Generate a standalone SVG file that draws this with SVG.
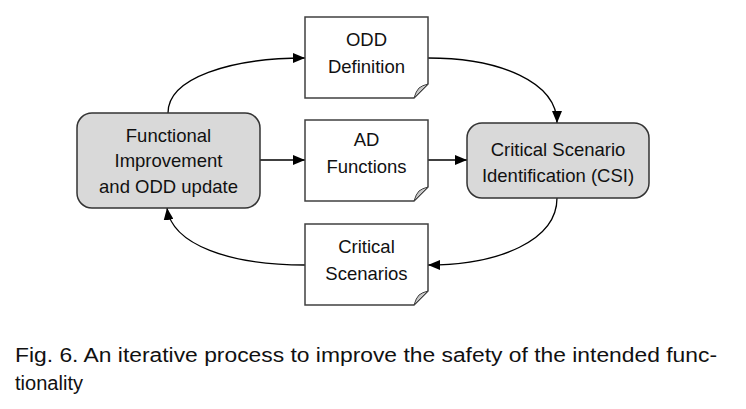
<svg xmlns="http://www.w3.org/2000/svg" width="746" height="409" viewBox="0 0 746 409">
  <defs>
    <marker id="arr" markerWidth="12" markerHeight="10" refX="12" refY="5" orient="auto" markerUnits="userSpaceOnUse">
      <path d="M0,0 L12,5 L0,10 Z" fill="#000"/>
    </marker>
    <style>
      .proc { fill: #d9d9d9; stroke: #333; stroke-width: 1.5; }
      .doc { fill: #fff; stroke: #404040; stroke-width: 1.5; }
      .fold { fill: #c8c8c8; stroke: #404040; stroke-width: 1; }
      .lbl { font-family: "Liberation Sans", Arial, sans-serif; font-size: 18.5px; fill: #111; text-anchor: middle; }
      .cap { font-family: "Liberation Sans", Arial, Helvetica, sans-serif; font-size: 19.5px; fill: #111; }
      .conn { fill: none; stroke: #000; stroke-width: 1.3; marker-end: url(#arr); }
    </style>
  </defs>
  <rect width="746" height="409" fill="#fff"/>

  <g id="connectors">
    <path class="conn" d="M168,113 C168,78 230,58 305,58"/>
    <path class="conn" d="M428,58 C500,58 557,82 557,123"/>
    <path class="conn" d="M260,160 L305,160"/>
    <path class="conn" d="M428,160 L467,160"/>
    <path class="conn" d="M557,198 C557,240 500,265 428,265"/>
    <path class="conn" d="M305,265 C230,265 172,245 167,208"/>
  </g>

  <g id="functional-improvement">
    <rect class="proc" x="77" y="113" width="183" height="95" rx="15" ry="15"/>
    <text class="lbl" x="168.5" y="142">Functional</text>
    <text class="lbl" x="168.5" y="167">Improvement</text>
    <text class="lbl" x="168.5" y="193">and ODD update</text>
  </g>

  <g id="odd-definition">
    <path class="doc" d="M305,17 H428 V84 L414,98 H305 Z"/>
    <path class="fold" d="M428,84 L414,98 Q416,91 419,88 Q422,85.5 428,84 Z"/>
    <text class="lbl" x="366.5" y="46">ODD</text>
    <text class="lbl" x="366.5" y="73">Definition</text>
  </g>

  <g id="ad-functions">
    <path class="doc" d="M305,120 H428 V187 L414,201 H305 Z"/>
    <path class="fold" d="M428,187 L414,201 Q416,194 419,191 Q422,188.5 428,187 Z"/>
    <text class="lbl" x="366.5" y="146">AD</text>
    <text class="lbl" x="366.5" y="173">Functions</text>
  </g>

  <g id="critical-scenarios">
    <path class="doc" d="M305,224 H428 V291 L414,305 H305 Z"/>
    <path class="fold" d="M428,291 L414,305 Q416,298 419,295 Q422,292.5 428,291 Z"/>
    <text class="lbl" x="366.5" y="253">Critical</text>
    <text class="lbl" x="366.5" y="280">Scenarios</text>
  </g>

  <g id="csi">
    <rect class="proc" x="467" y="123" width="182" height="75" rx="15" ry="15"/>
    <text class="lbl" x="558" y="156">Critical Scenario</text>
    <text class="lbl" x="558" y="182">Identification (CSI)</text>
  </g>

  <g id="caption">
    <text class="cap" x="15" y="362" textLength="702" lengthAdjust="spacingAndGlyphs">Fig. 6. An iterative process to improve the safety of the intended func-</text>
    <text class="cap" x="15" y="390" textLength="68" lengthAdjust="spacingAndGlyphs">tionality</text>
  </g>
</svg>
